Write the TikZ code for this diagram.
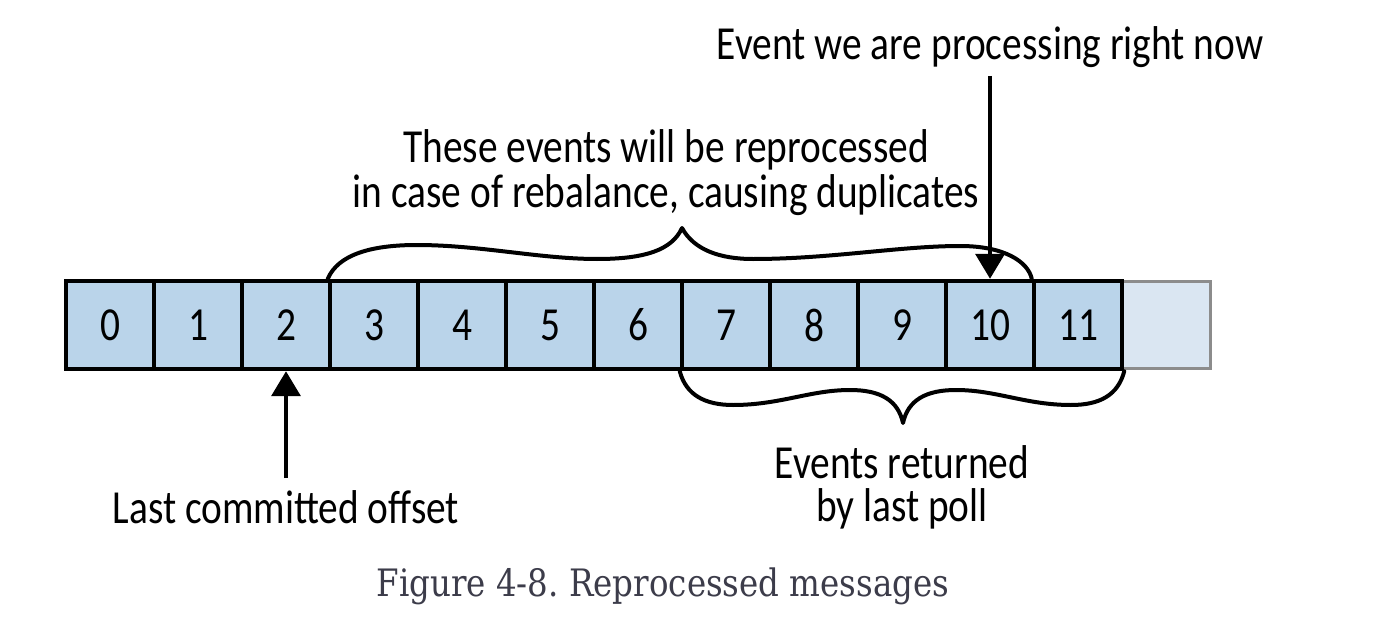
\documentclass[tikz,border=0pt]{standalone}
\usepackage{fontspec}
\setmainfont{Carlito}[FakeStretch=0.83]
\newfontfamily\capfont{DejaVu Serif}[FakeStretch=0.86]
\usetikzlibrary{arrows.meta}
\definecolor{cellblue}{HTML}{BAD4EA}
\definecolor{cellpale}{HTML}{DAE6F2}
\definecolor{cellgray}{HTML}{8C8C8C}
\definecolor{captext}{HTML}{3C3C4A}
\frenchspacing
\begin{document}
\begin{tikzpicture}[x=0.02cm,y=-0.02cm,
  cell/.style={draw=black, fill=cellblue, line width=0.09cm,
    minimum width=1.76cm, minimum height=1.76cm, inner sep=0pt,
    font=\fontsize{27}{30}\selectfont},
  lbl/.style={anchor=base, inner sep=0pt, font=\fontsize{27}{30}\selectfont},
  bracepath/.style={line width=0.08cm, line cap=round, line join=round},
  arr/.style={line width=0.075cm, -{Triangle[width=0.58cm,length=0.5cm]}},
  captionstyle/.style={anchor=base, inner sep=0pt, text=captext,
    font=\capfont\fontsize{21.5}{26}\selectfont}]
\useasboundingbox (0,0) rectangle (1388,628);
\fill[white] (0,0) rectangle (1388,628);

% cells
\node[cell, fill=cellpale, draw=cellgray, line width=0.06cm] (c12) at (1166,325) {};
\foreach \i in {0,...,11}
  \node[cell] (c\i) at (110+88*\i,325) {\i};

% top brace
\draw[bracepath] (c3.north west)
  .. controls (338,255) and (370,245) .. (417,245)
  .. controls (480,245) and (540,259) .. (597,259)
  .. controls (645,259) and (672,250) .. (682,228)
  .. controls (694,250) and (720,259) .. (753,259)
  .. controls (830,259) and (900,246) .. (960,246)
  .. controls (1005,246) and (1028,262) .. (c11.north west);

% bottom brace
\draw[bracepath] (c7.south west)
  .. controls (686,395) and (705,405) .. (733,405)
  .. controls (780,405) and (810,390) .. (850,390)
  .. controls (880,390) and (898,400) .. (903,423)
  .. controls (908,400) and (926,390) .. (956,390)
  .. controls (996,390) and (1026,405) .. (1071,405)
  .. controls (1100,405) and (1118,395) .. (c11.south east);

% labels
\node[lbl] (now) at (990,60) {Event we are processing right now};
\node[lbl] (reproA) at (666,163) {These events will be reprocessed};
\node[lbl] (reproB) at (666,208) {in case of rebalance, causing duplicates};
\node[lbl] (pollA) at (902,478) {Events returned};
\node[lbl] (pollB) at (902,521) {by last poll};
\node[lbl] (lco) at (286,523) {Last committed offset};

% arrows
\coordinate (nowtail) at (990,76);
\coordinate (lcotail) at (286,478);
\draw[arr] (nowtail) -- (c10.north);
\draw[arr] (lcotail) -- (c2.south);

% caption
\node[captionstyle] (cap) at (663,596) {Figure 4-8. Reprocessed messages};
\end{tikzpicture}
\end{document}
